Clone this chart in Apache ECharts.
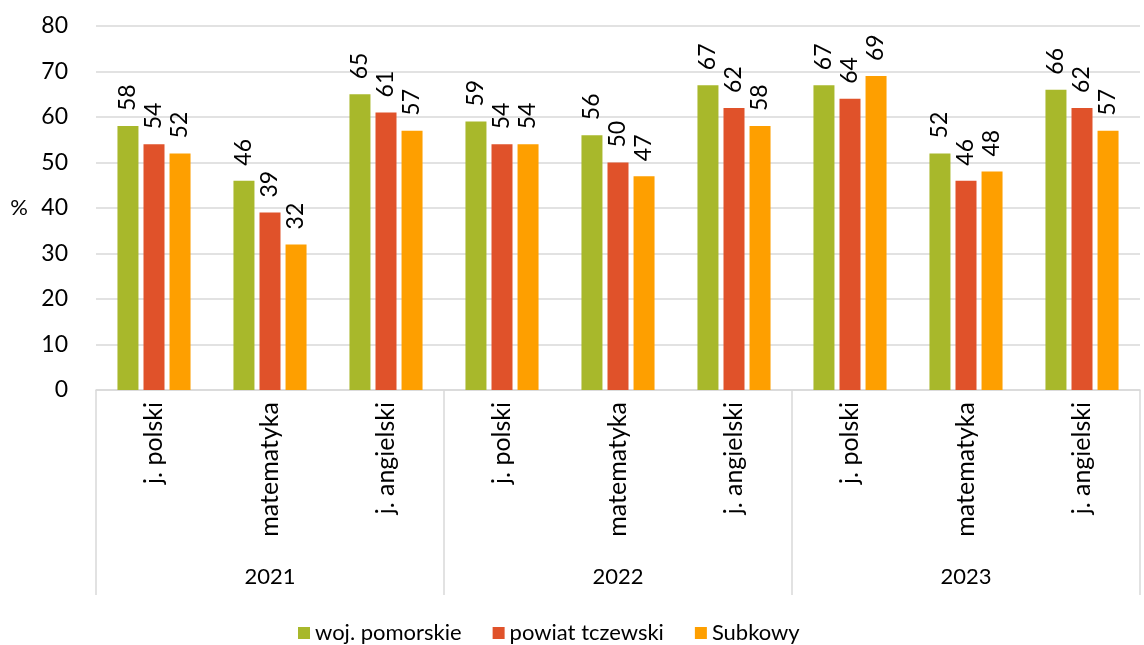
<!DOCTYPE html>
<html>
<head>
<meta charset="utf-8">
<script src="https://cdn.jsdelivr.net/npm/echarts@6/dist/echarts.min.js"></script>
<style>
  html, body { margin: 0; padding: 0; background: #fff; }
  #main { width: 1144px; height: 645px; }
</style>
</head>
<body>
<div id="main"></div>
<script>
var subjects = ['j. polski', 'matematyka', 'j. angielski', 'j. polski', 'matematyka', 'j. angielski', 'j. polski', 'matematyka', 'j. angielski'];
var years = ['2021', '2022', '2023'];
var seriesNames = ['woj. pomorskie', 'powiat tczewski', 'Subkowy'];
var pomorskie = [58, 46, 65, 59, 56, 67, 67, 52, 66];
var tczewski = [54, 39, 61, 54, 50, 62, 64, 46, 62];
var subkowy = [52, 32, 57, 54, 47, 58, 69, 48, 57];
var yTicks = [0, 10, 20, 30, 40, 50, 60, 70, 80];
var colors = ['#A8B82B', '#E0522A', '#FE9F00'];

var font = 'Lato, "Open Sans", sans-serif';
var myChart = echarts.init(document.getElementById('main'));

function makeSeries(name, data, color) {
  return {
    name: name,
    type: 'bar',
    data: data,
    barWidth: 21,
    barGap: '24%',
    itemStyle: { color: color },
    label: {
      show: true,
      position: 'top',
      rotate: 90,
      align: 'left',
      verticalAlign: 'middle',
      distance: 15,
      color: '#000',
      fontSize: 23,
      fontFamily: font
    }
  };
}

var option = {
  animation: false,
  color: colors,
  grid: { left: 96, right: 4, top: 26, bottom: 255 },
  legend: {
    top: 617,
    left: 293,
    itemWidth: 12,
    itemHeight: 12,
    itemGap: 31,
    icon: 'rect',
    textStyle: { fontSize: 22, fontFamily: font, color: '#000' },
    data: seriesNames
  },
  xAxis: [
    {
      type: 'category',
      data: subjects,
      axisLine: { lineStyle: { color: '#D9D9D9', width: 1.5 } },
      axisTick: { show: false },
      axisLabel: {
        rotate: 90,
        interval: 0,
        margin: 12,
        fontSize: 25,
        fontFamily: font,
        color: '#000'
      }
    },
    {
      type: 'category',
      data: years,
      position: 'bottom',
      gridIndex: 0,
      axisLine: { show: false },
      axisTick: {
        show: true,
        interval: 0,
        length: 205,
        lineStyle: { color: '#D9D9D9', width: 1.5 }
      },
      axisLabel: {
        interval: 0,
        margin: 176,
        fontSize: 22,
        fontFamily: font,
        color: '#000'
      }
    }
  ],
  yAxis: {
    type: 'value',
    min: yTicks[0],
    max: yTicks[yTicks.length - 1],
    interval: 10,
    name: '%',
    nameLocation: 'middle',
    nameRotate: 0,
    nameGap: 68,
    nameTextStyle: { fontSize: 22, fontFamily: font, color: '#000' },
    axisLine: { show: false },
    axisTick: { show: false },
    axisLabel: { fontSize: 23, fontFamily: font, color: '#000', margin: 28 },
    splitLine: { lineStyle: { color: '#D9D9D9', width: 1.5 } }
  },
  series: [
    makeSeries(seriesNames[0], pomorskie, colors[0]),
    makeSeries(seriesNames[1], tczewski, colors[1]),
    makeSeries(seriesNames[2], subkowy, colors[2])
  ]
};

myChart.setOption(option);
</script>
</body>
</html>
